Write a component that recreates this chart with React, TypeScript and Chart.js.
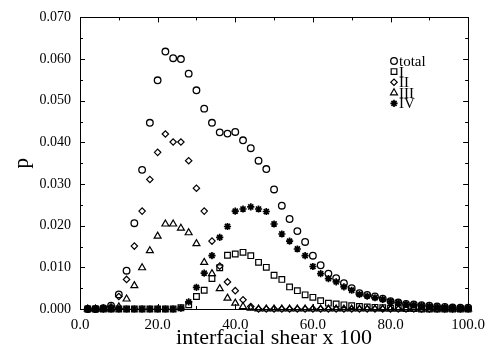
import React, { useEffect, useRef } from "react";
import { Chart, registerables } from "chart.js";
import { drawPoint } from "chart.js/helpers";

Chart.register(...registerables);

const xValues = [2, 4, 6, 8, 10, 12, 14, 16, 18, 20, 22, 24, 26, 28, 30, 32, 34, 36, 38, 40, 42, 44, 46, 48, 50, 52, 54, 56, 58, 60, 62, 64, 66, 68, 70, 72, 74, 76, 78, 80, 82, 84, 86, 88, 90, 92, 94, 96, 98, 100];

const totalP = [0, 0, 0.0002, 0.0008, 0.0035, 0.0092, 0.0206, 0.0334, 0.0447, 0.0549, 0.0618, 0.0602, 0.06, 0.0565, 0.0525, 0.0481, 0.0447, 0.0424, 0.0421, 0.0425, 0.0405, 0.0386, 0.0356, 0.0336, 0.0287, 0.0248, 0.0216, 0.0187, 0.0161, 0.0128, 0.0105, 0.0085, 0.0074, 0.0062, 0.005, 0.0038, 0.0034, 0.003, 0.0025, 0.0019, 0.0016, 0.0012, 0.0011, 0.0009, 0.0008, 0.0006, 0.0005, 0.0004, 0.0003, 0.0003];

const typeI = [0, 0, 0, 0, 0, 0, 0, 0, 0, 0, 0, 0, 0.0003, 0.001, 0.003, 0.0045, 0.0073, 0.0099, 0.0129, 0.0132, 0.0136, 0.0128, 0.0112, 0.01, 0.0081, 0.0071, 0.0053, 0.0044, 0.0034, 0.0028, 0.002, 0.0014, 0.0012, 0.001, 0.0008, 0.0006, 0.0005, 0.0004, 0.0003, 0.0002, 0.0002, 0.0001, 0.0001, 0, 0, 0, 0, 0, 0, 0];

const typeII = [0, 0, 0.0001, 0.0005, 0.003, 0.0071, 0.0151, 0.0235, 0.0311, 0.0376, 0.042, 0.0401, 0.0401, 0.0356, 0.029, 0.0235, 0.0163, 0.0103, 0.0065, 0.0044, 0.0022, 0.0006, 0, 0, 0, 0, 0, 0, 0, 0, 0, 0, 0, 0, 0, 0, 0, 0, 0, 0, 0, 0, 0, 0, 0, 0, 0, 0, 0, 0];

const typeIII = [0, 0, 0, 0, 0.0005, 0.0024, 0.0056, 0.0099, 0.014, 0.0175, 0.0204, 0.0204, 0.0194, 0.0183, 0.0157, 0.0112, 0.0085, 0.0049, 0.0026, 0.0014, 0.0006, 0.0002, 0, 0, 0, 0, 0, 0, 0, 0, 0, 0, 0, 0, 0, 0, 0, 0, 0, 0, 0, 0, 0, 0, 0, 0, 0, 0, 0, 0];

const typeIV = [0, 0, 0, 0, 0, 0, 0, 0, 0, 0, 0, 0, 0.0002, 0.0017, 0.0052, 0.0086, 0.0128, 0.0172, 0.0198, 0.0235, 0.024, 0.0245, 0.024, 0.0234, 0.0204, 0.018, 0.0163, 0.0144, 0.0128, 0.0102, 0.0085, 0.0073, 0.0065, 0.0053, 0.0045, 0.0035, 0.0031, 0.0027, 0.0023, 0.0018, 0.0015, 0.0011, 0.001, 0.0008, 0.0007, 0.0005, 0.0004, 0.0003, 0.0002, 0.0002];

const seriesLabels = ["total", "I", "II", "III", "IV"];
const xTicks = [0, 20, 40, 60, 80, 100];
const yTicks = [0, 0.01, 0.02, 0.03, 0.04, 0.05, 0.06, 0.07];
const xTitle = "interfacial shear x 100";
const yTitle = "p";

const SERIF = "'Liberation Serif', 'DejaVu Serif', serif";

const styles = [
  { pointStyle: "circle", radius: 3.3, borderWidth: 1.3 },
  { pointStyle: "rect", radius: 4, borderWidth: 1.2 },
  { pointStyle: "rectRot", radius: 3.2, borderWidth: 1.2 },
  { pointStyle: "triangle", radius: 4, borderWidth: 1.2 },
  { pointStyle: "star", radius: 3.6, borderWidth: 1.7 },
];

const allSeries = [totalP, typeI, typeII, typeIII, typeIV];

const framePlugin = {
  id: "frameAndDecor",
  afterDraw(chart: any) {
    const { ctx, chartArea } = chart;
    const xs = chart.scales.x;
    const ys = chart.scales.y;
    const { left, right, top, bottom } = chartArea;
    ctx.save();
    ctx.strokeStyle = "#000";
    ctx.lineWidth = 1;
    ctx.strokeRect(Math.round(left) + 0.5, Math.round(top) + 0.5, Math.round(right - left), Math.round(bottom - top));
    ctx.beginPath();
    for (let i = 0; i <= 14; i++) {
      const v = i * 0.005;
      const y = Math.round(ys.getPixelForValue(v)) + 0.5;
      const len = i % 2 === 0 ? 5 : 3;
      ctx.moveTo(left, y);
      ctx.lineTo(left + len, y);
      ctx.moveTo(right, y);
      ctx.lineTo(right - len, y);
    }
    for (let i = 0; i <= 10; i++) {
      const v = i * 10;
      const x = Math.round(xs.getPixelForValue(v)) + 0.5;
      const len = i % 2 === 0 ? 5 : 3;
      ctx.moveTo(x, top);
      ctx.lineTo(x, top + len);
      ctx.moveTo(x, bottom);
      ctx.lineTo(x, bottom - len);
    }
    ctx.stroke();

    // axis titles
    ctx.fillStyle = "#000";
    ctx.font = `22px ${SERIF}`;
    ctx.textAlign = "center";
    ctx.textBaseline = "middle";
    ctx.fillText(xTitle, (left + right) / 2, 338);
    ctx.save();
    ctx.translate(22, (top + bottom) / 2);
    ctx.rotate(-Math.PI / 2);
    ctx.font = `21px ${SERIF}`;
    ctx.fillText(yTitle, 0, 0);
    ctx.restore();

    // legend
    const lx = 394;
    let ly = 61;
    ctx.font = `15px ${SERIF}`;
    ctx.textAlign = "left";
    ctx.textBaseline = "middle";
    chart.data.datasets.forEach((ds: any) => {
      ctx.strokeStyle = "#000";
      ctx.fillStyle = "rgba(0,0,0,0)";
      ctx.lineWidth = ds.borderWidth;
      drawPoint(ctx, { pointStyle: ds.pointStyle, radius: ds.pointRadius, borderWidth: ds.borderWidth, rotation: 0 } as any, lx, ly);
      ctx.fillStyle = "#000";
      ctx.fillText(ds.label, lx + 5, ly + 1);
      ly += 10.6;
    });
    ctx.restore();
  },
};

export default function App() {
  const ref = useRef<HTMLCanvasElement | null>(null);
  useEffect(() => {
    if (!ref.current) return;
    const datasets = allSeries.map((arr, i) => ({
      label: seriesLabels[i],
      data: xValues.map((x, j) => ({ x, y: arr[j] })),
      showLine: false,
      pointStyle: styles[i].pointStyle,
      pointRadius: styles[i].radius,
      borderWidth: styles[i].borderWidth,
      pointBorderWidth: styles[i].borderWidth,
      borderColor: "#000",
      backgroundColor: "rgba(0,0,0,0)",
      pointBackgroundColor: "rgba(0,0,0,0)",
      pointBorderColor: "#000",
      clip: false as any,
    }));
    const chart = new Chart(ref.current, {
      type: "scatter",
      data: { datasets: datasets as any },
      options: {
        responsive: false,
        animation: false,
        devicePixelRatio: 1,
        layout: { padding: { top: 12, right: 20, left: 0, bottom: 0 } },
        plugins: { legend: { display: false }, tooltip: { enabled: false } },
        scales: {
          x: {
            type: "linear",
            min: 0,
            max: 100,
            afterBuildTicks: (s: any) => {
              s.ticks = xTicks.map((v) => ({ value: v }));
            },
            afterFit: (s: any) => {
              s.height = 44;
            },
            grid: { display: false, drawTicks: false },
            border: { display: false },
            ticks: {
              maxRotation: 0,
              autoSkip: false,
              padding: 7,
              color: "#000",
              font: { family: SERIF, size: 15 },
              callback: (v: any) => Number(v).toFixed(1),
            },
          },
          y: {
            type: "linear",
            min: 0,
            max: 0.07,
            afterBuildTicks: (s: any) => {
              s.ticks = yTicks.map((v) => ({ value: v }));
            },
            afterFit: (s: any) => {
              s.width = 80;
            },
            grid: { display: false, drawTicks: false },
            border: { display: false },
            ticks: {
              autoSkip: false,
              padding: 9,
              color: "#000",
              font: { family: SERIF, size: 14 },
              callback: (v: any) => Number(v).toFixed(3),
            },
          },
        },
      },
      plugins: [framePlugin],
    });
    return () => chart.destroy();
  }, []);
  return (
    <div style={{ position: "fixed", left: 0, top: 0, width: 492, height: 353, background: "#fff" }}>
      <canvas ref={ref} width={492} height={353} style={{ width: 492, height: 353 }} />
    </div>
  );
}
